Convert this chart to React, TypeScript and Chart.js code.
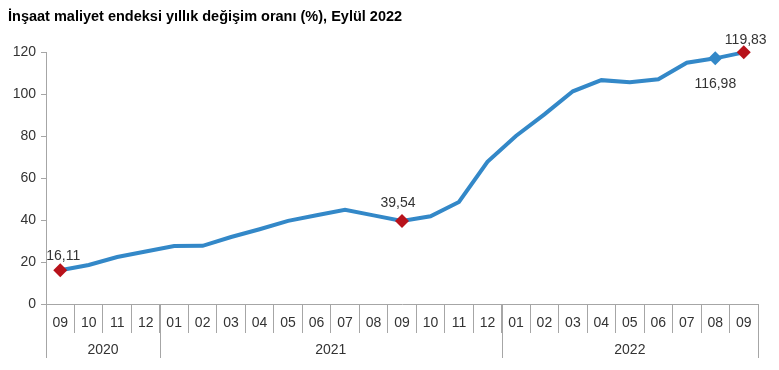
import React, { useEffect, useRef } from "react";
import { Chart, registerables } from "chart.js";

Chart.register(...registerables);

const title = "İnşaat maliyet endeksi yıllık değişim oranı (%), Eylül 2022";
const months = ["09","10","11","12","01","02","03","04","05","06","07","08","09","10","11","12","01","02","03","04","05","06","07","08","09"];
const yearGroups = [
  { label: "2020", start: 0, end: 3 },
  { label: "2021", start: 4, end: 15 },
  { label: "2022", start: 16, end: 24 },
];
const values = [16.11, 18.6, 22.4, 25.0, 27.6, 27.7, 31.9, 35.6, 39.6, 42.3, 44.9, 42.2, 39.54, 41.8, 48.6, 67.7, 80.0, 90.3, 101.3, 106.6, 105.6, 107.0, 114.9, 116.98, 119.83];
const labelledPoints = [
  { index: 0, text: "16,11", dx: 3, dy: -14 },
  { index: 12, text: "39,54", dx: -4, dy: -18 },
  { index: 23, text: "116,98", dx: 0, dy: 26 },
  { index: 24, text: "119,83", dx: 2, dy: -12 },
];
const redPoints = [0, 12, 24];
const bluePoints = [23];
const yTicks = [0, 20, 40, 60, 80, 100, 120];

const LINE = "#3388c8";
const RED = "#b8121b";
const TEXT = "#333333";
const AXIS = "#a6a6a6";
const FONT = "'Liberation Sans', Arial, sans-serif";

export default function App() {
  const ref = useRef<HTMLCanvasElement | null>(null);
  useEffect(() => {
    if (!ref.current) return;
    const pointColors = values.map((_, i) => (redPoints.includes(i) ? RED : LINE));
    const pointRadius = values.map((_, i) => (redPoints.includes(i) || bluePoints.includes(i) ? 7 : 0));

    const overlay = {
      id: "overlay",
      afterDraw(chart: any) {
        const ctx = chart.ctx;
        const x = chart.scales.x;
        const area = chart.chartArea;
        const step = x.getPixelForValue(1) - x.getPixelForValue(0);
        ctx.save();
        // title
        ctx.fillStyle = "#000";
        ctx.font = `bold 14.5px ${FONT}`;
        ctx.textAlign = "left";
        ctx.textBaseline = "middle";
        ctx.fillText(title, 8, 17);
        // year groups
        ctx.strokeStyle = AXIS;
        ctx.lineWidth = 1;
        ctx.font = `14px ${FONT}`;
        ctx.fillStyle = TEXT;
        ctx.textAlign = "center";
        yearGroups.forEach((g) => {
          const l = x.getPixelForValue(g.start) - step / 2;
          const r = x.getPixelForValue(g.end) + step / 2;
          [l, r].forEach((px) => {
            const p = Math.round(px) + 0.5;
            ctx.beginPath();
            ctx.moveTo(p, area.bottom);
            ctx.lineTo(p, area.bottom + 54);
            ctx.stroke();
          });
          ctx.fillText(g.label, (l + r) / 2, area.bottom + 46);
        });
        // data labels
        const meta = chart.getDatasetMeta(0);
        ctx.font = `14px ${FONT}`;
        ctx.fillStyle = TEXT;
        labelledPoints.forEach((lp) => {
          const pt = meta.data[lp.index];
          ctx.fillText(lp.text, pt.x + lp.dx, pt.y + lp.dy);
        });
        ctx.restore();
      },
    };

    const chart = new Chart(ref.current, {
      type: "line",
      data: {
        labels: months,
        datasets: [
          {
            data: values,
            borderColor: LINE,
            borderWidth: 4,
            tension: 0,
            clip: false,
            pointStyle: "rectRot",
            pointRadius,
            pointHoverRadius: pointRadius,
            pointBackgroundColor: pointColors,
            pointBorderColor: pointColors,
            pointBorderWidth: 0,
          },
        ],
      },
      options: {
        responsive: false,
        animation: false,
        events: [],
        layout: { padding: { top: 52, right: 21, left: 0, bottom: 0 } },
        plugins: { legend: { display: false }, title: { display: false }, tooltip: { enabled: false } },
        scales: {
          x: {
            type: "category",
            offset: true,
            grid: { offset: true, drawOnChartArea: false, tickLength: 29, color: AXIS },
            border: { color: AXIS },
            ticks: { color: TEXT, font: { family: FONT, size: 14 }, padding: -18, maxRotation: 0, autoSkip: false },
            afterFit(scale: any) {
              scale.height = 66;
            },
          },
          y: {
            min: 0,
            max: 120,
            afterBuildTicks(scale: any) {
              scale.ticks = yTicks.map((v) => ({ value: v }));
            },
            grid: { drawOnChartArea: false, tickLength: 5, color: AXIS },
            border: { color: AXIS },
            ticks: { color: TEXT, font: { family: FONT, size: 14 }, padding: 5 },
            afterFit(scale: any) {
              scale.width = 46;
            },
          },
        },
      },
      plugins: [overlay],
    } as any);
    return () => chart.destroy();
  }, []);
  return (
    <div style={{ position: "fixed", left: 0, top: 0, width: 779, height: 370, background: "#fff" }}>
      <canvas ref={ref} width={779} height={370} />
    </div>
  );
}
